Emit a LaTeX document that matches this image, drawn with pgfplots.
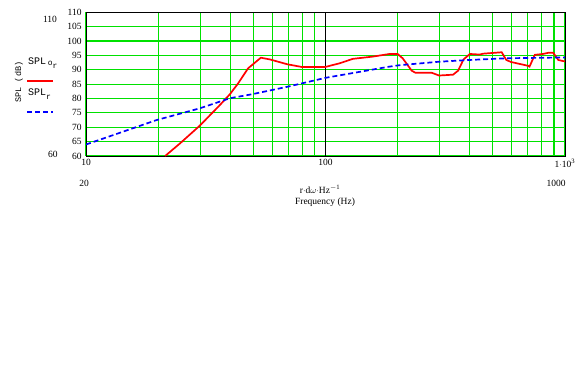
\documentclass[border=0pt]{standalone}
\usepackage{fontspec}
\setmainfont{Liberation Serif}
\newfontfamily\monofont{Liberation Mono}
\usepackage{pgfplots}
\pgfplotsset{compat=1.18}
\definecolor{mgreen}{RGB}{0,225,0}
\definecolor{mred}{RGB}{255,0,0}
\definecolor{mblue}{RGB}{0,0,255}
\begin{document}
\fontsize{9.5}{11}\selectfont
\begin{tikzpicture}[x=1pt,y=1pt]
\path[use as bounding box] (0,0) rectangle (582,384);
\begin{axis}[
  at={(86pt,228pt)}, anchor=south west,
  scale only axis, width=479pt, height=143.7pt,
  xmode=log, xmin=10, xmax=1000, ymin=60, ymax=110,
  xtick={10,20,30,40,50,60,70,80,90,100,200,300,400,500,600,700,800,900,1000},
  xticklabels={10,,,,,,,,,100,,,,,,,,,{1$\cdot$10\textsuperscript{3}}},
  minor xtick={},
  extra x ticks={100},
  extra x tick labels={},
  extra x tick style={grid style={black, line width=1pt}},
  ytick={60,65,70,75,80,85,90,95,100,105,110},
  major tick length=0pt, minor tick length=0pt,
  xmajorgrids, ymajorgrids,
  grid style={mgreen, line width=1.1pt},
  axis line style={black, line width=0.9pt},
  /pgf/number format/assume math mode=true,
  ticklabel style={font=\fontsize{9.5}{11}\selectfont},
  yticklabel style={xshift=-1pt},
  clip=true,
]
\addplot[mred, line width=1.7pt] coordinates {
(21.4,60) (24.7,64.4) (29.9,70.6) (36.2,77.7) (39.9,81.5) (43.2,85.3) (47.5,90.5) (53.7,94.2) (58.6,93.6) (69.4,91.9) (79.4,91.0) (100,91.0) (115,92.3) (130,93.8) (158,94.6) (185,95.5) (200,95.5) (210,94.0) (229,89.7) (237,89.0) (277,89.0) (298,88.0) (341,88.3) (358,89.7) (377,93.6) (401,95.5) (441,95.3) (455,95.6) (544,96.1) (569,93.4) (596,92.7) (700,91.4) (711,91.1) (748,95.2) (809,95.5) (850,95.9) (893,95.9) (938,93.4) (1000,92.9)
};
\addplot[mblue, line width=1.7pt, dash pattern=on 5pt off 3pt] coordinates {
(10,64) (19.7,72.5) (29.9,76.6) (39.9,80.1) (49.4,81.5) (69.4,84.1) (100,87.2) (185,91.1) (204,91.6) (298,92.8) (396,93.4) (569,94.0) (1000,94.3)
};
\end{axis}
% extra texts
\node at (50,365) {110};
\node at (53,230) {60};
\node at (84,201) {20};
\node at (556,201) {1000};
\node at (320,195) {r$\cdot$d$\omega\cdot$Hz\textsuperscript{$-$1}};
\node at (325,182) {Frequency (Hz)};
\node[rotate=90] at (19,302) {\monofont\fontsize{8.5}{9}\selectfont SPL (dB)};
\node[anchor=west, inner sep=0pt] at (28,321) {\monofont\fontsize{10}{11}\selectfont SPL\,\raisebox{-1pt}{\fontsize{8}{8}\selectfont o}\raisebox{-3.5pt}{\fontsize{8}{8}\selectfont r}};
\draw[mred, line width=1.7pt] (27,303) -- (53,303);
\node[anchor=west, inner sep=0pt] at (28,290) {\monofont\fontsize{10}{11}\selectfont SPL\raisebox{-3.5pt}{\fontsize{8}{8}\selectfont r}};
\draw[mblue, line width=1.7pt, dash pattern=on 5pt off 3pt] (27,272) -- (53,272);
\end{tikzpicture}
\end{document}
